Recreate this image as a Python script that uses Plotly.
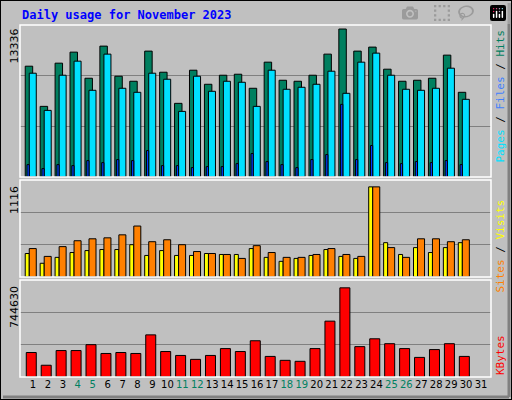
import plotly.graph_objects as go

days = list(range(1, 32))
hits = [9986,6366,10258,11253,8900,11796,9081,8629,11344,9443,6637,9624,8357,9172,9262,7995,10348,8719,8629,9172,11072,13336,11344,11706,9715,8629,8719,8900,10982,7633]
files = [9353,6004,9172,10439,7814,11072,7995,7633,9353,8810,5913,9081,7724,8629,8538,6366,9624,7905,8086,8357,9534,7543,10348,11163,9172,7905,7814,7995,9805,7000]
pages = [1116,754,1116,1026,1478,1297,1569,1478,2383,1026,1026,845,935,935,1207,2112,1388,1116,845,1569,2021,6547,1569,2836,1297,1207,1388,1297,1478,1116]
sites = [291,170,243,303,327,340,340,400,267,327,267,267,291,279,279,352,243,194,230,267,340,255,230,1116,425,279,364,303,364,425]
visits = [352,255,376,449,473,485,522,631,437,461,400,315,291,279,230,388,303,243,243,279,352,279,255,1116,364,243,473,473,437,461]
kbytes = [204570,98194,220936,220936,270032,196387,204570,196387,351860,212753,180022,147290,180022,237301,212753,302764,171839,139108,130925,237301,466420,744630,253667,319129,278215,237301,163656,229118,278215,171839]
weekend = [4,5,11,12,18,19,25,26]
title = "Daily usage for November 2023"

d = days[:30]
fig = go.Figure()
line = dict(color="black", width=1)
def bar(y, off, w, color, xa, ya):
    fig.add_trace(go.Bar(x=d, y=y, offset=off, width=w, marker=dict(color=color, line=line),
                         xaxis=xa, yaxis=ya, showlegend=False))
bar(hits, -0.52, 0.5, "#007f5f", "x", "y")
bar(files, -0.25, 0.47, "#00e0ff", "x", "y")
bar(pages, -0.4, 0.15, "#0040ff", "x", "y")
bar(sites, -0.52, 0.27, "#ffff00", "x2", "y2")
bar(visits, -0.25, 0.47, "#ff8000", "x2", "y2")
bar(kbytes, -0.45, 0.67, "#ff0000", "x3", "y3")

xr = [0.13, 31.67]
xdom = [20/512, 491/512]
ticktext = [f"<span style='color:#008060'>{v}</span>" if v in weekend else str(v) for v in days]
common = dict(range=xr, domain=xdom, showgrid=False, zeroline=False, fixedrange=True)
fig.update_layout(
    width=512, height=400, margin=dict(l=0, r=0, t=0, b=0),
    paper_bgcolor="#c0c0c0", plot_bgcolor="#c0c0c0", barmode="overlay",
    font=dict(family="DejaVu Sans Mono", size=11, color="black"),
    xaxis=dict(**common, showticklabels=False, anchor="y"),
    xaxis2=dict(**common, showticklabels=False, anchor="y2"),
    xaxis3=dict(**common, anchor="y3", tickvals=days, ticktext=ticktext, ticks="", tickangle=0,
                tickfont=dict(family="DejaVu Sans", size=10)),
)
def yax(mx, dom, xa):
    return dict(range=[0, mx], domain=dom, tickvals=[mx/3, 2*mx/3], showticklabels=False,
                gridcolor="#808080", gridwidth=1, zeroline=False, anchor=xa, fixedrange=True)
fig.update_layout(yaxis=yax(13698, [1-177/400, 1-25/400], "x"),
                  yaxis2=yax(1201, [1-277/400, 1-180/400], "x2"),
                  yaxis3=yax(810100, [1-377/400, 1-280/400], "x3"))

shapes = []
shapes.append(dict(type="rect", xref="paper", yref="paper", x0=0, y0=0, x1=1, y1=1, line=dict(color="black", width=2)))
shapes.append(dict(type="line", xref="paper", yref="paper", x0=3/512, y0=3/400, x1=509/512, y1=3/400, line=dict(color="#808080", width=3)))
shapes.append(dict(type="line", xref="paper", yref="paper", x0=509/512, y0=3/400, x1=509/512, y1=397/400, line=dict(color="#808080", width=3)))
for y0, y1 in [(25, 177), (180, 277), (280, 377)]:
    shapes.append(dict(type="rect", xref="paper", yref="paper", x0=20/512, x1=491/512,
                       y0=1-y1/400, y1=1-y0/400, line=dict(color="white", width=1.5)))
fig.update_layout(shapes=shapes)

ann = [dict(text=f"<b>{title}</b>", x=20/512, y=1-15/400, xref="paper", yref="paper", showarrow=False,
            xanchor="left", yanchor="middle", font=dict(color="#0000ff", size=12, family="DejaVu Sans Mono"))]
for txt, ytop in [("13336", 27), ("1116", 184), ("744630", 284)]:
    ann.append(dict(text=txt, x=14/512, y=1-ytop/400, xref="paper", yref="paper", showarrow=False,
                    textangle=-90, xanchor="center", yanchor="top", font=dict(size=11, family="DejaVu Sans")))
right = [("<span style='color:#00e0ff'>Pages</span> / <span style='color:#4080ff'>Files</span> / <span style='color:#007f5f'>Hits</span>", 28),
         ("<span style='color:#ff8000'>Sites</span> / <span style='color:#ffff00'>Visits</span>", 198),
         ("<span style='color:#ff0000'>KBytes</span>", 333)]
for txt, ytop in right:
    ann.append(dict(text=txt, x=500/512, y=1-ytop/400, xref="paper", yref="paper", showarrow=False,
                    textangle=-90, xanchor="center", yanchor="top", font=dict(size=11, family="DejaVu Sans Mono")))
fig.update_layout(annotations=ann)
fig.write_html("out.html", post_script="document.body.style.margin='0';document.body.style.padding='0';")
